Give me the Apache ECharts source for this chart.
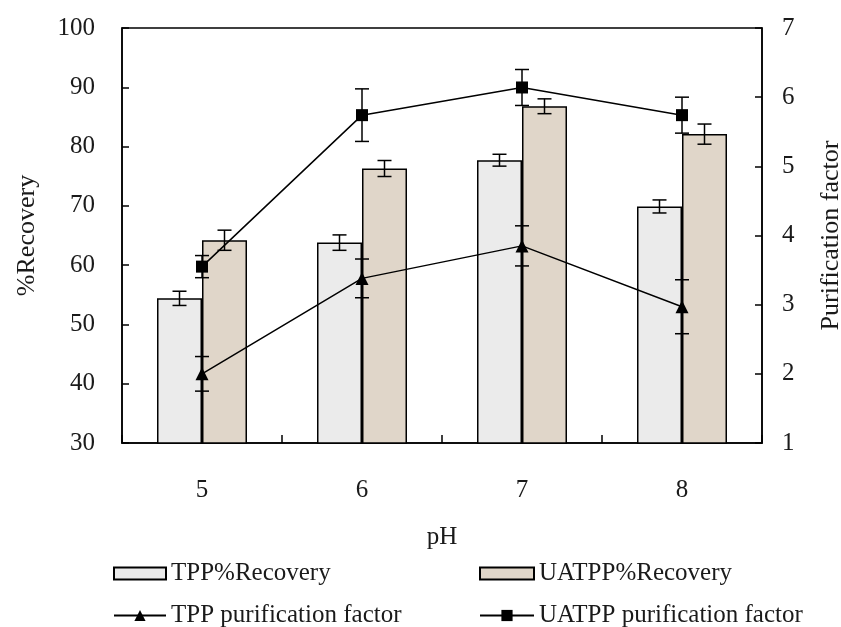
<!DOCTYPE html>
<html>
<head>
<meta charset="utf-8">
<script src="https://cdn.jsdelivr.net/npm/echarts@6/dist/echarts.min.js"></script>
<style>html,body{margin:0;padding:0;background:#fff;overflow:hidden;}#c{width:841px;height:627px;}</style>
</head>
<body>
<div id="c"></div>
<script>
const categories = ['5', '6', '7', '8'];
const leftTicks = [30, 100, 10];
const rightTicks = [1, 7, 1];
const tppRecovery = [54.4, 63.8, 77.7, 69.9];
const tppRecoveryErr = [1.2, 1.3, 1.0, 1.1];
const uatppRecovery = [64.2, 76.3, 86.8, 82.1];
const uatppRecoveryErr = [1.7, 1.35, 1.25, 1.7];
const tppPF = [2.0, 3.38, 3.85, 2.97];
const tppPFErr = [0.25, 0.28, 0.29, 0.39];
const uatppPF = [3.55, 5.74, 6.14, 5.74];
const uatppPFErr = [0.16, 0.38, 0.26, 0.26];

const FONT = '"Liberation Serif", "DejaVu Serif", serif';
const TXT = '#1a1a1a';
const BAR_W = 45;

function errData(vals, errs) { return vals.map((v, i) => [i, v, errs[i]]); }
function errRender(offset, cap) {
  return function (params, api) {
    const i = api.value(0), v = api.value(1), e = api.value(2);
    const hi = api.coord([i, v + e]);
    const lo = api.coord([i, v - e]);
    const x = hi[0] + offset;
    const st = { stroke: '#000', lineWidth: 1.5 };
    return {
      type: 'group',
      children: [
        { type: 'line', shape: { x1: x, y1: hi[1], x2: x, y2: lo[1] }, style: st },
        { type: 'line', shape: { x1: x - cap / 2, y1: hi[1], x2: x + cap / 2, y2: hi[1] }, style: st },
        { type: 'line', shape: { x1: x - cap / 2, y1: lo[1], x2: x + cap / 2, y2: lo[1] }, style: st }
      ]
    };
  };
}

const legendText = { fontFamily: FONT, fontSize: 25, color: TXT };
function leg(name, left, top, w, h) {
  return { data: [name], left: left, top: top, itemWidth: w, itemHeight: h, itemGap: 0,
    textStyle: legendText, padding: 0, selectedMode: false };
}

const chart = echarts.init(document.getElementById('c'), null, { renderer: 'canvas' });
chart.setOption({
  animation: false,
  backgroundColor: '#fff',
  grid: { left: 122, right: 79, top: 28, bottom: 184, containLabel: false, outerBoundsMode: 'none',
    show: true, borderColor: '#000', borderWidth: 1.5, backgroundColor: 'transparent' },
  legend: [
    Object.assign(leg('TPP%Recovery', 113, 561, 52, 12), { icon: 'rect' }),
    Object.assign(leg('UATPP%Recovery', 479, 561, 54, 12), { icon: 'rect' }),
    leg('TPP purification factor', 113, 603, 52, 14),
    leg('UATPP purification factor', 479, 603, 54, 14)
  ],
  xAxis: {
    type: 'category', data: categories,
    name: 'pH', nameLocation: 'middle', nameGap: 82,
    nameTextStyle: { fontFamily: FONT, fontSize: 25, color: TXT },
    axisLine: { show: true, lineStyle: { color: '#000', width: 1.5 } },
    axisTick: { show: true, inside: true, length: 8, alignWithLabel: false, lineStyle: { color: '#000', width: 1.5 } },
    axisLabel: { fontFamily: FONT, fontSize: 25, color: TXT, margin: 35 }
  },
  yAxis: [
    {
      type: 'value', min: leftTicks[0], max: leftTicks[1], interval: leftTicks[2],
      name: '%Recovery', nameLocation: 'middle', nameGap: 82, nameRotate: 90,
      nameTextStyle: { fontFamily: FONT, fontSize: 26, color: TXT },
      axisLine: { show: true, lineStyle: { color: '#000', width: 1.5 } },
      axisTick: { show: true, inside: true, length: 7, lineStyle: { color: '#000', width: 1.5 } },
      axisLabel: { fontFamily: FONT, fontSize: 25, color: TXT, margin: 27 },
      splitLine: { show: false }
    },
    {
      type: 'value', min: rightTicks[0], max: rightTicks[1], interval: rightTicks[2],
      name: 'Purification factor', nameLocation: 'middle', nameGap: 56, nameRotate: 90,
      nameTextStyle: { fontFamily: FONT, fontSize: 26, color: TXT },
      axisLine: { show: true, lineStyle: { color: '#000', width: 1.5 } },
      axisTick: { show: true, inside: true, length: 7, lineStyle: { color: '#000', width: 1.5 } },
      axisLabel: { fontFamily: FONT, fontSize: 25, color: TXT, margin: 20 },
      splitLine: { show: false }
    }
  ],
  series: [
    { name: 'TPP%Recovery', type: 'bar', data: tppRecovery, barWidth: BAR_W, barGap: '0%', z: 2,
      itemStyle: { color: '#ebebeb', borderColor: '#000', borderWidth: 1.5 } },
    { name: 'UATPP%Recovery', type: 'bar', data: uatppRecovery, barWidth: BAR_W, barGap: '0%', z: 2,
      itemStyle: { color: '#e0d6c9', borderColor: '#000', borderWidth: 1.5 } },
    { name: 'TPP purification factor', type: 'line', yAxisIndex: 1, data: tppPF, z: 4,
      symbol: 'triangle', symbolSize: 13,
      lineStyle: { color: '#000', width: 1.5 }, itemStyle: { color: '#000' } },
    { name: 'UATPP purification factor', type: 'line', yAxisIndex: 1, data: uatppPF, z: 4,
      symbol: 'rect', symbolSize: 12,
      lineStyle: { color: '#000', width: 1.5 }, itemStyle: { color: '#000' } },
    { type: 'custom', yAxisIndex: 0, z: 5, data: errData(tppRecovery, tppRecoveryErr), renderItem: errRender(-BAR_W / 2, 14) },
    { type: 'custom', yAxisIndex: 0, z: 5, data: errData(uatppRecovery, uatppRecoveryErr), renderItem: errRender(BAR_W / 2, 14) },
    { type: 'custom', yAxisIndex: 1, z: 5, data: errData(tppPF, tppPFErr), renderItem: errRender(0, 14) },
    { type: 'custom', yAxisIndex: 1, z: 5, data: errData(uatppPF, uatppPFErr), renderItem: errRender(0, 14) }
  ]
});
</script>
</body>
</html>
